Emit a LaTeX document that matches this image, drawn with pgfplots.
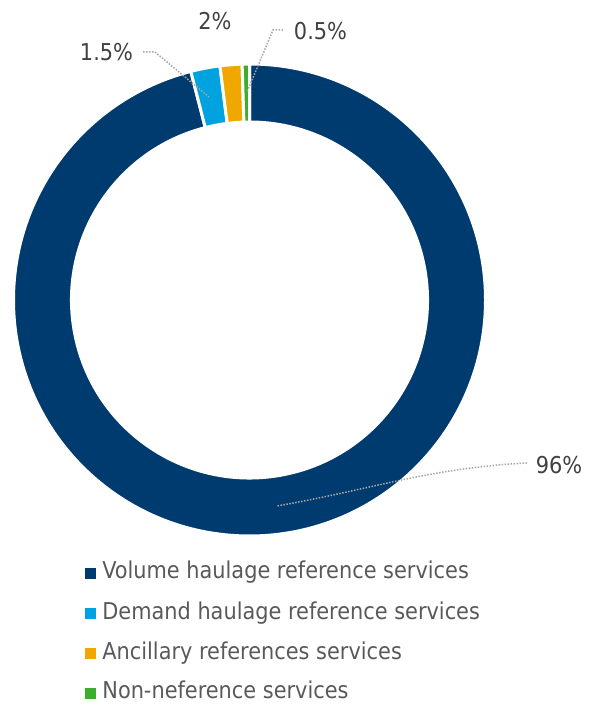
\documentclass[border=0pt]{standalone}
\usepackage{pgfplots}
\pgfplotsset{compat=1.18}
\usepackage{pgfplotstable}
\usepackage{fontspec}
\setmainfont{DejaVu Sans Condensed}
\definecolor{cNavy}{HTML}{003B6F}
\definecolor{cBlue}{HTML}{00A3E0}
\definecolor{cOrange}{HTML}{F0A800}
\definecolor{cGreen}{HTML}{3DAE2B}
\definecolor{cLab}{HTML}{404040}
\definecolor{cLeg}{HTML}{595959}
\definecolor{cLead}{HTML}{A6A6A6}

\pgfplotstableread{
series value
Volume 96
Demand 2.0
Ancillary 1.5
Non 0.5
}\shares

\pgfplotstablegetelem{0}{value}\of\shares\let\vA\pgfplotsretval
\pgfplotstablegetelem{1}{value}\of\shares\let\vB\pgfplotsretval
\pgfplotstablegetelem{2}{value}\of\shares\let\vC\pgfplotsretval
\pgfplotstablegetelem{3}{value}\of\shares\let\vD\pgfplotsretval
\pgfmathsetmacro\tA{90}
\pgfmathsetmacro\tB{\tA-3.6*\vA}
\pgfmathsetmacro\tC{\tB-3.6*\vB}
\pgfmathsetmacro\tD{\tC-3.6*\vC}
\pgfmathsetmacro\tE{\tD-3.6*\vD}

\newcommand\sector[3]{%
  \path[overlay, fill=#1, draw=white, line width=1.5pt]
    (axis cs:{236*cos(#2)},{236*sin(#2)})
    arc[start angle=#2, end angle=#3, radius=118pt]
    -- (axis cs:{178*cos(#3)},{178*sin(#3)})
    arc[start angle=#3, end angle=#2, radius=89pt] -- cycle;}

\begin{document}
\begin{tikzpicture}
\begin{axis}[
  x=0.5pt, y=0.5pt,
  xmin=-249.5, xmax=340.5, ymin=-406, ymax=300,
  hide axis, clip=false,
  legend cell align=left,
  legend style={at={(axis cs:-164.5,-261)}, anchor=north west,
    draw=none, fill=none, inner sep=0pt, outer sep=0pt,
    row sep=8pt,
    font=\fontsize{11.6}{14}\selectfont,
    text=cLeg,
    nodes={inner sep=0pt, text height=9pt, text depth=3pt},
    /tikz/every odd column/.append style={column sep=3.3pt}},
]
\path (rel axis cs:0,0) rectangle (rel axis cs:1,1);
\addlegendimage{legend image code/.code={\fill[cNavy] (0pt,-2.5pt) rectangle (5pt,2.5pt);}}
\addlegendentry{Volume haulage reference services}
\addlegendimage{legend image code/.code={\fill[cBlue] (0pt,-2.5pt) rectangle (5pt,2.5pt);}}
\addlegendentry{Demand haulage reference services}
\addlegendimage{legend image code/.code={\fill[cOrange] (0pt,-2.5pt) rectangle (5pt,2.5pt);}}
\addlegendentry{Ancillary references services}
\addlegendimage{legend image code/.code={\fill[cGreen] (0pt,-2.5pt) rectangle (5pt,2.5pt);}}
\addlegendentry{Non-neference services}

\sector{cNavy}{\tA}{\tB}
\sector{cBlue}{\tB}{\tC}
\sector{cOrange}{\tC}{\tD}
\sector{cGreen}{\tD}{\tE}

\draw[cLead, line width=0.75pt, dash pattern=on 0.75pt off 0.75pt]
  (axis cs:-106.5,248) -- (axis cs:-94.5,248) -- (axis cs:-40.5,203);
\draw[cLead, line width=0.75pt, dash pattern=on 0.75pt off 0.75pt]
  (axis cs:33.5,270) -- (axis cs:23.5,270) -- (axis cs:-2.5,208);
\draw[cLead, line width=0.75pt, dash pattern=on 0.75pt off 0.75pt]
  (axis cs:277.5,-163) to[out=183, in=10] (axis cs:27.5,-206);

\node[font=\fontsize{11.6}{14}\selectfont, text=cLab] at (axis cs:-143,248) {1.5\%};
\node[font=\fontsize{11.6}{14}\selectfont, text=cLab] at (axis cs:-34.5,279) {2\%};
\node[font=\fontsize{11.6}{14}\selectfont, text=cLab] at (axis cs:71,269) {0.5\%};
\node[font=\fontsize{11.6}{14}\selectfont, text=cLab] at (axis cs:309.5,-165) {96\%};
\end{axis}
\end{tikzpicture}
\end{document}
